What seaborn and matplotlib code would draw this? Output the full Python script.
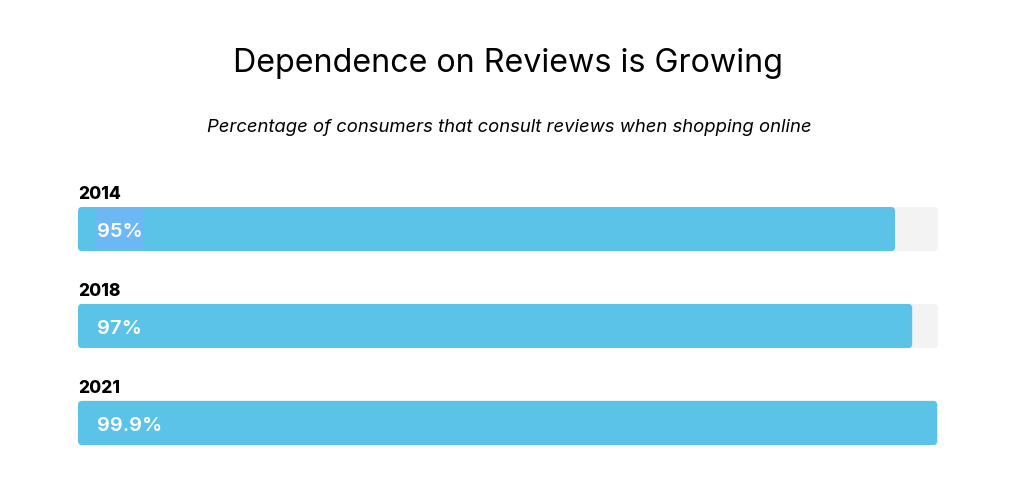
import matplotlib
matplotlib.use("Agg")
import matplotlib.pyplot as plt
import seaborn as sns
import pandas as pd
from matplotlib.patches import FancyBboxPatch, Rectangle

years = ["2014", "2018", "2021"]
values = [95, 97, 99.9]
labels = ["95%", "97%", "99.9%"]
track_max = [100, 100, 100]

title = "Dependence on Reviews is Growing"
subtitle = "Percentage of consumers that consult reviews when shopping online"

BAR = "#5bc3e8"
TRACK = "#f3f3f3"
HILITE = "#6cb8f4"

sns.set_theme(style="white")
plt.rcParams["font.family"] = ["Inter", "DejaVu Sans"]

df = pd.DataFrame({"year": years, "value": values, "track": track_max})

fig = plt.figure(figsize=(10.24, 4.84), dpi=100)
W, H = 1024, 484
ax = fig.add_axes([78 / W, 1 - 445 / H, (938 - 78) / W, (445 - 207) / H])

bw = 0.455
sns.barplot(data=df, y="year", x="track", color=TRACK, width=bw, ax=ax,
            saturation=1, orient="h")
sns.barplot(data=df, y="year", x="value", color=BAR, width=bw, ax=ax,
            saturation=1, orient="h")

ax.set_xlim(0, 100)
ax.set_ylim(2 + bw / 2, -bw / 2)

px_x = 860 / 100.0
px_y = 238 / (2 + bw)
r_px = 4
patches = list(ax.patches)
for p in patches:
    x0, y0, w, h = p.get_x(), p.get_y(), p.get_width(), p.get_height()
    fc = p.get_facecolor()
    p.remove()
    fb = FancyBboxPatch((x0, y0), w, h,
                        boxstyle=f"round,pad=0,rounding_size={r_px / px_x}",
                        mutation_aspect=px_x / px_y,
                        facecolor=fc, edgecolor="none", zorder=2)
    ax.add_patch(fb)

ax.set_xlabel("")
ax.set_ylabel("")
ax.set_xticks([])
ax.set_yticks([])
for s in ax.spines.values():
    s.set_visible(False)

value_texts = []
for i, (yr, lab) in enumerate(zip(years, labels)):
    ax.text(0, i - bw / 2 - 0.04, yr, ha="left", va="bottom",
            fontsize=12.5, fontweight="heavy", color="black")
    t = ax.text(19 / px_x, i + 3 / px_y, lab, ha="left", va="center",
                fontsize=14.5, fontweight="semibold", color="white", zorder=4)
    value_texts.append(t)

fig.text(0.5 - 4 / W, 1 - 63 / H, title, ha="center", va="center",
         fontsize=23.2, color="black")
fig.text(0.5 - 3 / W, 1 - 128 / H, subtitle, ha="center", va="center",
         fontsize=13.3, style="italic", color="black")

# highlight behind the first value label (selection-like band)
fig.canvas.draw()
bb = value_texts[0].get_window_extent().transformed(ax.transData.inverted())
x_a, x_b = min(bb.x0, bb.x1), max(bb.x0, bb.x1)
ax.add_patch(Rectangle((x_a - 1 / px_x, 0 - bw / 2 + 1 / px_y),
                       (x_b - x_a) + 2 / px_x, bw - 2 / px_y,
                       facecolor=HILITE, edgecolor="none", zorder=3))

fig.savefig("out.png", dpi=100)
